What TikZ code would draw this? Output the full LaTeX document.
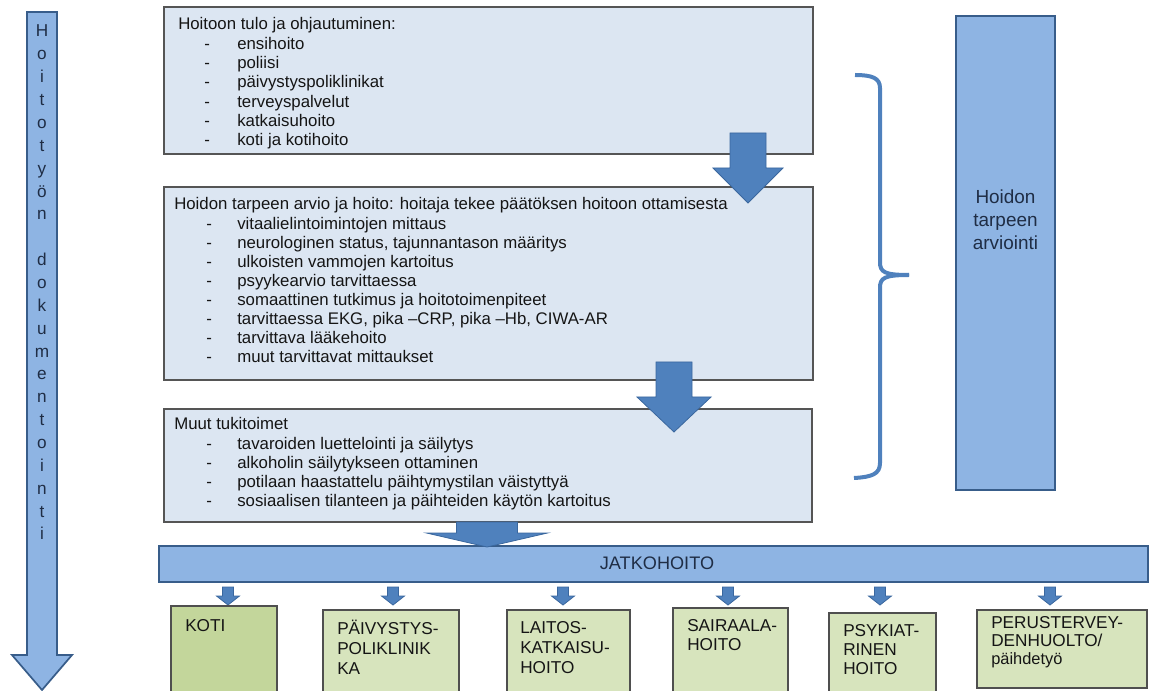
\documentclass[tikz,border=0pt]{standalone}
\usepackage{fontspec}
\setmainfont{Liberation Sans}
\usetikzlibrary{fit}
\definecolor{boxfill}{HTML}{DCE6F2}
\definecolor{boxline}{HTML}{555555}
\definecolor{barfill}{HTML}{8EB4E3}
\definecolor{barline}{HTML}{385D8A}
\definecolor{arrfill}{HTML}{4F81BD}
\definecolor{arrline}{HTML}{3A679E}
\definecolor{greenA}{HTML}{C3D69B}
\definecolor{greenB}{HTML}{D7E4BD}
\definecolor{greenline}{HTML}{4F4F4F}
\definecolor{navytext}{HTML}{1F2D45}
\definecolor{maintext}{HTML}{151515}
\newcommand\blockarrow[7]{% #1 style, #2 cx, #3 top, #4 shaft half, #5 head half, #6 base, #7 tip
  \filldraw[#1] ({#2-#4},#3) -- ({#2+#4},#3) -- ({#2+#4},#6) -- ({#2+#5},#6) -- (#2,#7)
    -- ({#2-#5},#6) -- ({#2-#4},#6) -- cycle;}
\begin{document}
\begin{tikzpicture}[x=0.75pt,y=-0.75pt,
  infobox/.style={draw=boxline, fill=boxfill, line width=1.3pt, inner sep=0pt},
  bluebox/.style={draw=barline, fill=barfill, line width=1.3pt, inner sep=0pt},
  greenbox/.style={draw=greenline, fill=greenB, line width=1pt, inner sep=0pt},
  txt/.style={anchor=base west, inner sep=0pt, text=maintext, font=\fontsize{12.6}{14.5}\selectfont},
  btxt/.style={anchor=base west, inner sep=0pt, text=maintext, font=\fontsize{12.9}{14}\selectfont},
  vletter/.style={anchor=base, inner sep=0pt, text=navytext, font=\fontsize{12.9}{14}\selectfont},
  rtxt/.style={anchor=base, inner sep=0pt, text=navytext, font=\fontsize{14.2}{16}\selectfont},
  jtxt/.style={anchor=base, inner sep=0pt, text=navytext, font=\fontsize{13.6}{16}\selectfont},
  darrow/.style={fill=arrfill, draw=arrline, line width=0.6pt},
  larrow/.style={fill=barfill, draw=barline, line width=1.3pt},
  bracestyle/.style={draw=arrfill, line width=3pt}
]
\useasboundingbox (0,0) rectangle (1150,691);
\clip (0,0) rectangle (1150,691);

% left documentation arrow
\blockarrow{larrow}{42}{12}{15}{30}{655}{690}
\foreach \c [count=\i from 0] in {H,o,i,t,o,t,y,ö,n,{},d,o,k,u,m,e,n,t,o,i,n,t,i}
  \node[vletter] (v\i) at (42,{37+22.86*\i}) {\c};

% box 1
\node[infobox, fit={(164,7) (813,154)}] (b1) {};
\node[txt] (b1h) at (178,30) {Hoitoon tulo ja ohjautuminen:};
\foreach \t [count=\i] in {ensihoito, poliisi, päivystyspoliklinikat, terveyspalvelut, katkaisuhoito, koti ja kotihoito}{
  \node[txt] (b1d\i) at (204,{30+19.3*\i}) {-};
  \node[txt] (b1t\i) at (237,{30+19.3*\i}) {\t};
}

% box 2
\node[infobox, fit={(164,187) (813,380)}] (b2) {};
\node[txt] (b2h) at (174,210) {Hoidon tarpeen arvio ja hoito: hoitaja tekee päätöksen hoitoon ottamisesta};
\foreach \t [count=\i] in {vitaalielintoimintojen mittaus, {neurologinen status, tajunnantason määritys}, ulkoisten vammojen kartoitus, psyykearvio tarvittaessa, somaattinen tutkimus ja hoitotoimenpiteet, {tarvittaessa EKG, pika –CRP, pika –Hb, CIWA-AR}, tarvittava lääkehoito, muut tarvittavat mittaukset}{
  \node[txt] (b2d\i) at (206,{210+19.1*\i}) {-};
  \node[txt] (b2t\i) at (237,{210+19.1*\i}) {\t};
}

% box 3
\node[infobox, fit={(164,409) (812,522)}] (b3) {};
\node[txt] (b3h) at (174,430) {Muut tukitoimet};
\foreach \t [count=\i] in {tavaroiden luettelointi ja säilytys, alkoholin säilytykseen ottaminen, potilaan haastattelu päihtymystilan väistyttyä, sosiaalisen tilanteen ja päihteiden käytön kartoitus}{
  \node[txt] (b3d\i) at (206,{430+19.2*\i}) {-};
  \node[txt] (b3t\i) at (237,{430+19.2*\i}) {\t};
}

% arrows between boxes
\blockarrow{darrow}{748}{133}{18}{35}{168}{203}
\blockarrow{darrow}{674}{362}{18}{37}{397}{432}

% brace
\draw[bracestyle] (855,75) .. controls (872,75) and (880,78) .. (880,88) -- (880,262)
  .. controls (880,272) and (884,275) .. (909,275);
\draw[bracestyle] (909,275) .. controls (884,275) and (880,278) .. (880,288) -- (880,463)
  .. controls (880,474) and (872,477) .. (854,478);

% right box
\node[bluebox, fit={(956,16) (1055,490)}] (rb) {};
\node[rtxt] (rb1) at (1005.5,204) {Hoidon};
\node[rtxt] (rb2) at (1005.5,227) {tarpeen};
\node[rtxt] (rb3) at (1005.5,250) {arviointi};

% JATKOHOITO bar
\node[bluebox, fit={(159,546) (1148,582)}] (jh) {};
\node[jtxt] (jht) at (657,570) {JATKOHOITO};
\blockarrow{darrow}{487}{522}{30.5}{60.5}{533}{547}

% small arrows
\foreach \x [count=\i] in {228,393,563,728,880,1050}
  \blockarrow{darrow}{\x}{587}{5.5}{11.5}{596}{605};

% bottom boxes
\node[greenbox, fill=greenA, fit={(171,606) (277,700)}] (g1) {};
\node[btxt] (g1a) at (185,631) {KOTI};
\node[greenbox, fit={(323,610) (459,700)}] (g2) {};
\node[btxt] (g2a) at (337,634) {PÄIVYSTYS-};
\node[btxt] (g2b) at (337,654) {POLIKLINIK};
\node[btxt] (g2c) at (337,674) {KA};
\node[greenbox, fit={(507,610) (630,700)}] (g3) {};
\node[btxt] (g3a) at (520,633) {LAITOS-};
\node[btxt] (g3b) at (520,653) {KATKAISU-};
\node[btxt] (g3c) at (520,673) {HOITO};
\node[greenbox, fit={(673,608) (788,700)}] (g4) {};
\node[btxt] (g4a) at (687,631) {SAIRAALA-};
\node[btxt] (g4b) at (687,650) {HOITO};
\node[greenbox, fit={(829,613) (936,700)}] (g5) {};
\node[btxt] (g5a) at (843,636) {PSYKIAT-};
\node[btxt] (g5b) at (843,655) {RINEN};
\node[btxt] (g5c) at (843,674) {HOITO};
\node[greenbox, fit={(977,610) (1147,688)}] (g6) {};
\node[btxt] (g6a) at (991,628) {PERUSTERVEY-};
\node[btxt] (g6b) at (991,646) {DENHUOLTO/};
\node[btxt, font=\fontsize{12.3}{14}\selectfont] (g6c) at (991,664) {päihdetyö};
\end{tikzpicture}
\end{document}
